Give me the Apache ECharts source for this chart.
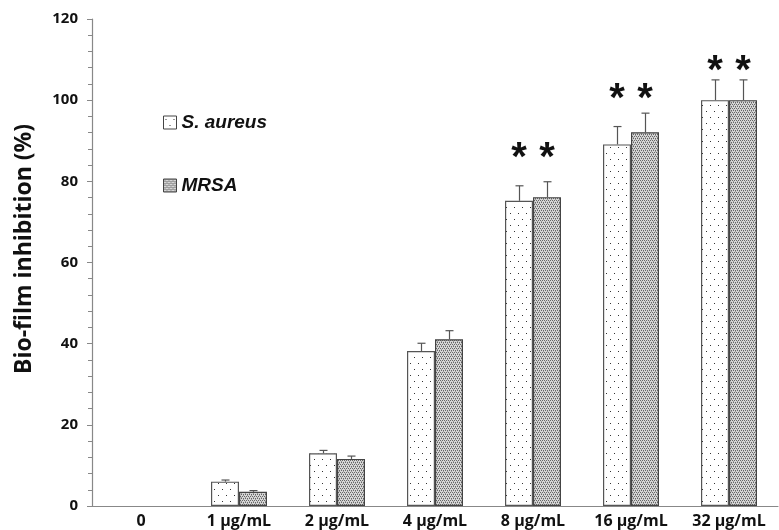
<!DOCTYPE html>
<html>
<head>
<meta charset="utf-8">
<script src="https://cdn.jsdelivr.net/npm/echarts@6/dist/echarts.min.js"></script>
<style>
  html, body { margin: 0; padding: 0; background: #fff; }
  #main { width: 779px; height: 530px; }
</style>
</head>
<body>
<div id="main"></div>
<script>
// concentrations
const categories = ['0', '1 μg/mL', '2 μg/mL', '4 μg/mL', '8 μg/mL', '16 μg/mL', '32 μg/mL'];
// mean inhibition (%)
const saureusValues = [0, 6, 13, 38.2, 75.2, 89.1, 100];
const mrsaValues = [0, 3.5, 11.6, 41.1, 76.1, 92.1, 100];
// upper error bar ends (%)
const saureusErrTop = [0, 6.4, 13.7, 40.1, 78.9, 93.5, 105];
const mrsaErrTop = [0, 3.8, 12.3, 43.2, 79.9, 96.8, 105];
// level of the significance stars (null = none)
const starLevel = [null, null, null, null, 86.5, 101, 108];
const yTicks = [0, 20, 40, 60, 80, 100, 120];

const FONT = '"Open Sans", "Liberation Sans", sans-serif';

// fill patterns
function makePattern(w, h, draw) {
  const c = document.createElement('canvas');
  c.width = w; c.height = h;
  const ctx = c.getContext('2d');
  draw(ctx);
  return c;
}
const dotsPattern = makePattern(8, 12, function (ctx) {
  ctx.fillStyle = '#fff';
  ctx.fillRect(0, 0, 8, 12);
  ctx.fillStyle = '#333';
  ctx.fillRect(2, 3, 1, 1);
  ctx.fillRect(6, 9, 1, 1);
});
const densePattern = makePattern(4, 4, function (ctx) {
  ctx.fillStyle = '#d6d6d6';
  ctx.fillRect(0, 0, 4, 4);
  ctx.fillStyle = '#666';
  ctx.fillRect(0, 0, 1, 1);
  ctx.fillRect(2, 0, 1, 1);
  ctx.fillRect(1, 2, 1, 1);
  ctx.fillRect(3, 2, 1, 1);
  ctx.fillStyle = '#999';
  ctx.fillRect(1, 1, 1, 1);
  ctx.fillRect(3, 3, 1, 1);
});

const BAR_W = 28;

// zero means no bar at all
function barData(values) {
  return values.map(function (v) { return v === 0 ? '-' : v; });
}

function errorSeries(errTop, values, offset) {
  return {
    type: 'custom',
    silent: true,
    z: 3,
    data: values.map(function (v, i) { return [i, v, errTop[i]]; }),
    renderItem: function (params, api) {
      if (api.value(2) <= 0) return null;
      const base = api.coord([api.value(0), api.value(1)]);
      const top = api.coord([api.value(0), api.value(2)]);
      const x = Math.round(base[0] + offset) + 0.5;
      const st = { stroke: '#555', lineWidth: 1.2 };
      return {
        type: 'group',
        children: [
          { type: 'line', shape: { x1: x, y1: base[1], x2: x, y2: top[1] }, style: st },
          { type: 'line', shape: { x1: x - 4, y1: top[1], x2: x + 4, y2: top[1] }, style: st }
        ]
      };
    }
  };
}

const chart = echarts.init(document.getElementById('main'));
chart.setOption({
  animation: false,
  backgroundColor: '#fff',
  grid: { left: 92, right: 1, top: 19, bottom: 24 },
  graphic: [{
    type: 'text',
    x: 24,
    y: 249,
    rotation: Math.PI / 2,
    style: {
      text: 'Bio-film inhibition (%)',
      font: 'bold 23px ' + FONT,
      fill: '#111',
      align: 'center',
      verticalAlign: 'middle'
    }
  }],
  legend: {
    orient: 'vertical',
    left: 158,
    top: 108,
    itemGap: 44,
    itemWidth: 13,
    itemHeight: 13,
    itemStyle: { borderColor: '#444', borderWidth: 1 },
    icon: 'rect',
    data: ['S. aureus', 'MRSA'],
    textStyle: {
      fontFamily: 'Liberation Sans',
      fontWeight: 'bold',
      fontStyle: 'italic',
      fontSize: 19,
      color: '#111'
    }
  },
  xAxis: {
    type: 'category',
    data: categories,
    axisLine: { lineStyle: { color: '#888', width: 1.2 } },
    axisTick: { length: 6, lineStyle: { color: '#888' } },
    axisLabel: {
      interval: 0,
      color: '#111',
      fontFamily: FONT,
      fontWeight: 'bold',
      fontSize: 16,
      margin: 7
    }
  },
  yAxis: {
    type: 'value',
    min: 0,
    max: 120,
    interval: 20,
    axisLine: { show: true, lineStyle: { color: '#888', width: 1.2 } },
    axisTick: { show: true, length: 5, lineStyle: { color: '#888' } },
    minorTick: { show: true, splitNumber: 5, length: 4, lineStyle: { color: '#888' } },
    splitLine: { show: false },
    axisLabel: {
      color: '#111',
      fontFamily: FONT,
      fontWeight: 'bold',
      fontSize: 15,
      margin: 14,
      formatter: function (v) { return yTicks.indexOf(v) >= 0 ? String(v) : ''; }
    }
  },
  series: [
    {
      name: 'S. aureus',
      type: 'bar',
      data: barData(saureusValues),
      barWidth: BAR_W,
      barGap: '0%',
      itemStyle: {
        color: { image: dotsPattern, repeat: 'repeat' },
        borderColor: '#555',
        borderWidth: 1.2
      }
    },
    {
      name: 'MRSA',
      type: 'bar',
      data: barData(mrsaValues),
      barWidth: BAR_W,
      barGap: '0%',
      itemStyle: {
        color: { image: densePattern, repeat: 'repeat' },
        borderColor: '#444',
        borderWidth: 1.2
      }
    },
    errorSeries(saureusErrTop, saureusValues, -BAR_W / 2),
    errorSeries(mrsaErrTop, mrsaValues, BAR_W / 2),
    {
      type: 'custom',
      silent: true,
      z: 4,
      data: starLevel.map(function (v, i) { return [i, v == null ? 0 : v, v == null ? 0 : 1]; }),
      renderItem: function (params, api) {
        if (!api.value(2)) return null;
        const p = api.coord([api.value(0), api.value(1)]);
        const mk = function (dx) {
          return {
            type: 'text',
            x: p[0] + dx,
            y: p[1] + 4,
            style: {
              text: '*',
              fill: '#111',
              font: 'bold 40px "Liberation Sans"',
              align: 'center',
              verticalAlign: 'middle'
            }
          };
        };
        return { type: 'group', children: [mk(-BAR_W / 2), mk(BAR_W / 2)] };
      }
    }
  ]
});
</script>
</body>
</html>
